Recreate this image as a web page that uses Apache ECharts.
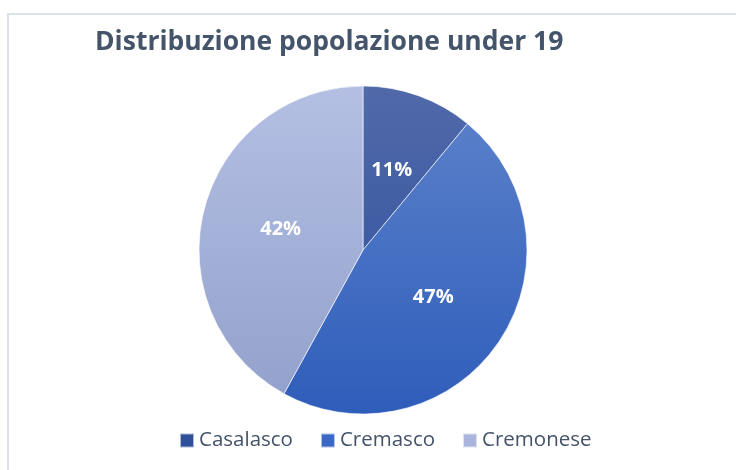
<!DOCTYPE html>
<html>
<head>
<meta charset="utf-8">
<script src="https://cdn.jsdelivr.net/npm/echarts@6/dist/echarts.min.js"></script>
<style>
html,body{margin:0;padding:0;background:#fff;}
#chart{width:736px;height:470px;}
</style>
</head>
<body>
<div id="chart"></div>
<script>
const categories = ['Casalasco', 'Cremasco', 'Cremonese'];
const values = [11, 47, 42];
const titleText = 'Distribuzione popolazione under 19';

const cx = 363, cy = 250, r = 164;
const grads = [
  ['#5169A9', '#2A4F9E'],
  ['#5E83CB', '#2E5DBA'],
  ['#B4BFE3', '#91A0CB']
];
function grad(i) {
  return {
    type: 'linear', global: true,
    x: 0, y: cy - r, x2: 0, y2: cy + r,
    colorStops: [{offset: 0, color: grads[i][0]}, {offset: 1, color: grads[i][1]}]
  };
}
const legendColors = ['#2E4F99', '#3A68C6', '#A9B5DC'];

const chart = echarts.init(document.getElementById('chart'), null, {renderer: 'canvas'});
chart.setOption({
  animation: false,
  graphic: [{
    type: 'rect', silent: true, z: -1,
    shape: {x: 8, y: 14, width: 800, height: 600},
    style: {fill: 'none', stroke: '#DCE1E7', lineWidth: 2}
  }],
  title: {
    text: titleText,
    left: 90, top: 24,
    textStyle: {fontFamily: 'Open Sans', fontWeight: 'bold', fontSize: 26.5, color: '#44546A'}
  },
  legend: {
    bottom: 14, left: 174,
    itemWidth: 14, itemHeight: 14, itemGap: 27,
    icon: 'rect',
    textStyle: {fontFamily: 'Open Sans', fontSize: 20.5, color: '#44526A', padding: [0, 0, 0, 0]},
    data: categories.map((c, i) => ({name: c, itemStyle: {color: legendColors[i]}}))
  },
  series: [{
    type: 'pie',
    center: [cx, cy],
    radius: [0, r],
    startAngle: 90,
    clockwise: true,
    label: {
      show: true, position: 'inside',
      formatter: '{c}%',
      color: '#fff', fontFamily: 'Open Sans', fontWeight: 'bold', fontSize: 20
    },
    labelLine: {show: false},
    emphasis: {disabled: true},
    itemStyle: {borderColor: 'rgba(255,255,255,0.6)', borderWidth: 1},
    data: categories.map((c, i) => ({name: c, value: values[i], itemStyle: {color: grad(i)}}))
  }]
});
</script>
</body>
</html>
